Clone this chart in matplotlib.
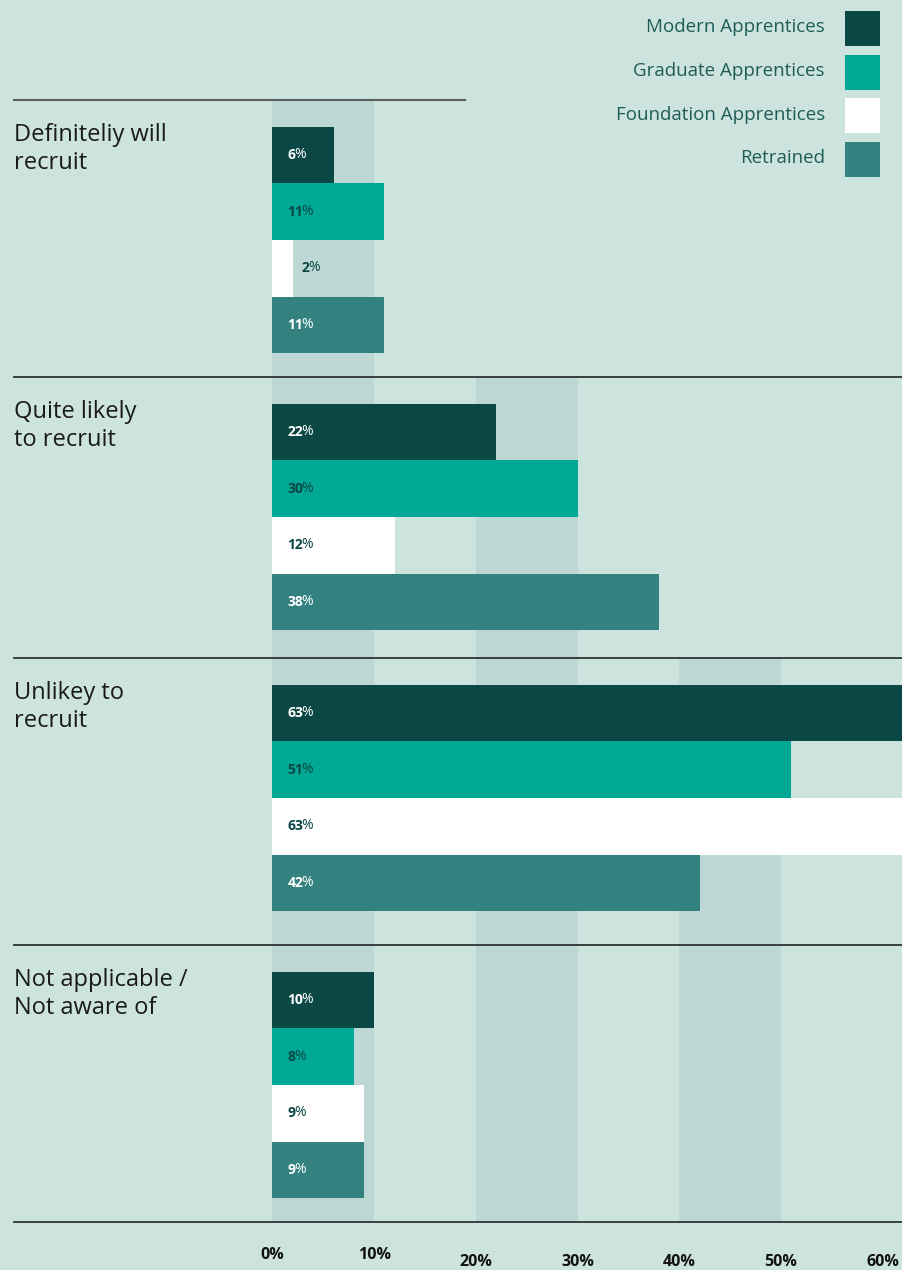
import matplotlib
matplotlib.use("Agg")
import matplotlib.pyplot as plt
from matplotlib.patches import Rectangle

plt.rcParams['font.family'] = ['Open Sans', 'DejaVu Sans']

groups = ["Definiteliy will\nrecruit", "Quite likely\nto recruit",
          "Unlikey to\nrecruit", "Not applicable /\nNot aware of"]
series = ["Modern Apprentices", "Graduate Apprentices",
          "Foundation Apprentices", "Retrained"]
modern = [6, 22, 63, 10]
graduate = [11, 30, 51, 8]
foundation = [2, 12, 63, 9]
retrained = [11, 38, 42, 9]
ticks = [0, 10, 20, 30, 40, 50, 60]
tick_labels = ["0%", "10%", "20%", "30%", "40%", "50%", "60%"]

colors = ["#0b4745", "#00a995", "#ffffff", "#338280"]
label_colors = ["#ffffff", "#0b4745", "#0b4745", "#ffffff"]
bg = "#cde3de"
band = "#bdd8d4"

W, H = 903, 1270
fig = plt.figure(figsize=(W / 100, H / 100), dpi=100, facecolor=bg)

# pixel rows of the section dividers
rules = [100, 377, 658, 945, 1222]
x0 = 272.5          # pixel column of 0%
px_per = 10.17      # pixels per percent

ax = fig.add_axes([x0 / W, 0, (W - x0) / W, 1])
ax.set_xlim(0, (W - x0) / px_per)
ax.set_ylim(H, 0)
ax.axis("off")
ax.patch.set_alpha(0)

# shaded columns, a few more per section
bands_per_section = [[0], [0, 20], [0, 20, 40], [0, 20, 40]]
for i, starts in enumerate(bands_per_section):
    for s in starts:
        ax.add_patch(Rectangle((s, rules[i]), 10, rules[i + 1] - rules[i],
                               color=band, lw=0, zorder=0))

values = [modern, graduate, foundation, retrained]
bar_h = 56.7
for g in range(len(groups)):
    top = rules[g] + 26.5
    for k, vals in enumerate(values):
        yc = top + bar_h * (k + 0.5)
        v = vals[g]
        ax.barh(yc, v, height=bar_h, left=0, color=colors[k], lw=0, zorder=2)
        if v < 4:
            xy, off, col = (v, yc), 9 * 0.72, "#0b4745"
        else:
            xy, off, col = (0, yc), 15 * 0.72, label_colors[k]
        t = ax.annotate(str(v), xy=xy, xytext=(off, 0), textcoords="offset points",
                        ha="left", va="center", fontsize=10, fontweight="bold",
                        color=col, zorder=3)
        ax.annotate("%", xy=(1, 0), xycoords=t, xytext=(-1.2, 0),
                    textcoords="offset points", ha="left", va="bottom",
                    fontsize=10, color=col, zorder=3)

# percent scale below the chart
for i, (tk, lab) in enumerate(zip(ticks, tick_labels)):
    y = 1255 if tk < 20 else 1262
    ax.text(tk, y, lab, ha="center", va="center", fontsize=11.5,
            fontweight="bold", color="#111111", clip_on=False)

# overlay for rules, group names and legend
ov = fig.add_axes([0, 0, 1, 1], zorder=5)
ov.set_xlim(0, W)
ov.set_ylim(H, 0)
ov.axis("off")
ov.patch.set_alpha(0)

ov.plot([14, 465], [rules[0]] * 2, color="#5a605e", lw=1.5)
for r in rules[1:]:
    ov.plot([14, W], [r, r], color="#2e3432", lw=1.3)

for g, name in enumerate(groups):
    ov.text(14, rules[g] + 23, name, ha="left", va="top", fontsize=17,
            color="#1a1a1a", linespacing=1.2)

for k, name in enumerate(series):
    ytop = 11 + 43.5 * k
    ov.add_patch(Rectangle((845, ytop), 35, 35, color=colors[k], lw=0))
    ov.text(825, ytop + 16.5, name, ha="right", va="center", fontsize=13.5,
            color="#1f5c57")

fig.savefig("out.png", dpi=100, facecolor=bg)
